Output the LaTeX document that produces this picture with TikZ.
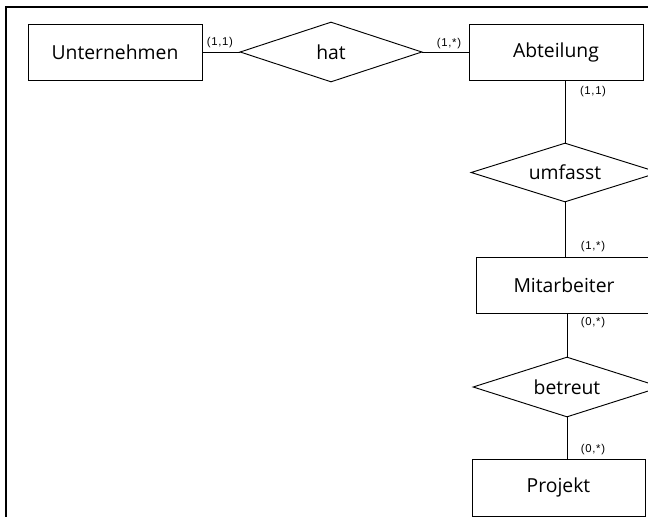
\documentclass[tikz,border=0pt]{standalone}
\usepackage{fontspec}
\setmainfont{Open Sans}
\newfontfamily\cardfont[LetterSpace=6]{Liberation Sans}
\usetikzlibrary{shapes.geometric}
\begin{document}
\begin{tikzpicture}[x=0.75pt,y=-0.75pt,
  entity/.style={draw, line width=0.7pt, rectangle, inner sep=0pt,
    minimum height=42pt, font=\fontsize{14.5}{16}\selectfont},
  relation/.style={draw, line width=0.7pt, diamond, inner sep=0pt,
    aspect=3, font=\fontsize{14.5}{16}\selectfont},
  card/.style={inner sep=0pt, font=\cardfont\fontsize{8.5}{10}\selectfont},
  link/.style={line width=0.7pt}]
  \useasboundingbox (0,0) rectangle (648,517);
  % frame edges
  \draw[line width=1.6pt] (5,7) -- (648,7);
  \draw[line width=1.6pt] (6,7) -- (6,517);

  % entities
  \node[entity, minimum width=130.5pt] (unt) at (115,52) {Unternehmen};
  \node[entity, minimum width=130.5pt] (abt) at (556,52) {Abteilung};
  \node[entity, minimum width=132pt]   (mit) at (564,285) {Mitarbeiter};
  \node[entity, minimum width=129.75pt, minimum height=42.75pt] (prj) at (558.5,487.5) {Projekt};

  % relationships
  \node[relation, minimum width=136.5pt, minimum height=45pt] (hat) at (331,52) {hat};
  \node[relation, minimum width=141pt, minimum height=44.25pt] (umf) at (565,172.5) {umfasst};
  \node[relation, minimum width=141pt, minimum height=45pt] (bet) at (567,387) {betreut};

  % connectors
  \draw[link] (unt.east) -- (hat.west);
  \draw[link] (hat.east) -- (abt.west);
  \draw[link] (umf.north |- abt.south) -- (umf.north);
  \draw[link] (umf.south) -- (umf.south |- mit.north);
  \draw[link] (bet.north |- mit.south) -- (bet.north);
  \draw[link] (bet.south) -- (bet.south |- prj.north);

  % cardinalities
  \node[card] (c1) at (220,43) {(1,1)};
  \node[card] (c2) at (449,44) {(1,*)};
  \node[card] (c3) at (593,92) {(1,1)};
  \node[card] (c4) at (593,247) {(1,*)};
  \node[card] (c5) at (593,323) {(0,*)};
  \node[card] (c6) at (593,450) {(0,*)};
\end{tikzpicture}
\end{document}
